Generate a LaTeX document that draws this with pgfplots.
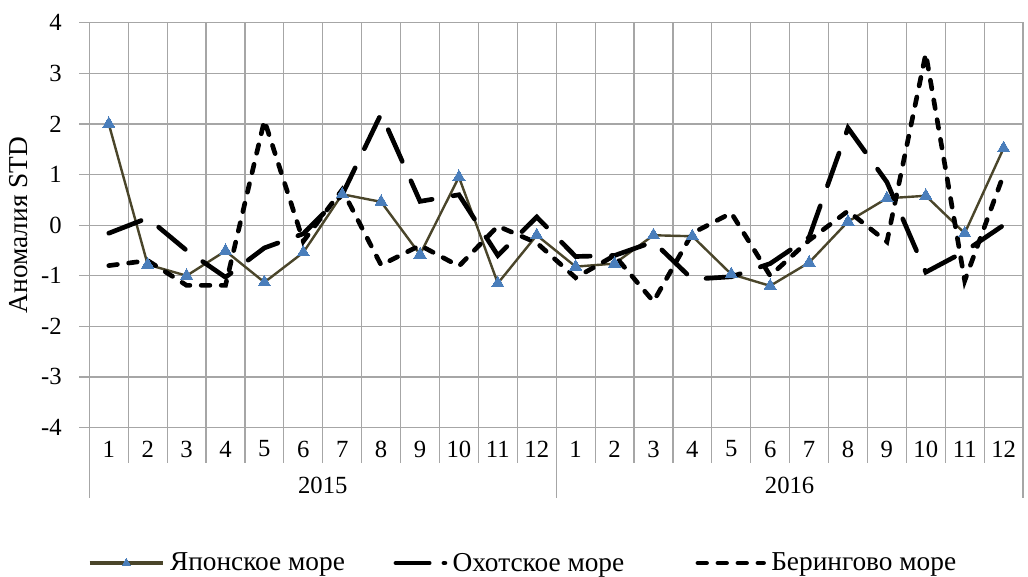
\documentclass[border=0pt]{standalone}
\usepackage{fontspec}
\setmainfont{Liberation Serif}
\usepackage{pgfplots}
\pgfplotsset{compat=1.18}

\definecolor{gridgray}{RGB}{166,166,166}
\definecolor{japanline}{RGB}{74,69,42}
\definecolor{japanmark}{RGB}{74,126,187}

\pgfplotsset{
  trianglelegend/.style={legend image code/.code={%
    \draw[##1, line width=2.5pt] (0pt,0pt) -- (55pt,0pt);
    \draw[japanmark, fill=japanmark, line width=0pt] plot[mark=triangle*, mark size=3.6pt]
      coordinates {(27.5pt,0pt)};}},
  longdashlegend/.style={legend image code/.code={%
    \draw[##1, dash pattern=on 25pt off 11pt on 1pt off 10pt] (1.75pt,0pt) -- (38.5pt,0pt);}},
  shortdashlegend/.style={legend image code/.code={%
    \draw[##1] (1.75pt,0pt) -- (51pt,0pt);}},
}

% Monthly STD anomalies, 2015-2016 (index 0..23)
\pgfplotstableread{
i  japan  okhotsk  bering
0   2.00  -0.16  -0.80
1  -0.78   0.14  -0.70
2  -1.00  -0.50  -1.19
3  -0.51  -1.03  -1.19
4  -1.13  -0.45   2.07
5  -0.54  -0.17  -0.32
6   0.61   0.60   0.70
7   0.46   2.20  -0.79
8  -0.58   0.47  -0.40
9   0.95   0.60  -0.81
10 -1.15  -0.60  -0.02
11 -0.20   0.16  -0.35
12 -0.82  -0.62  -1.04
13 -0.76  -0.60  -0.60
14 -0.20  -0.33  -1.51
15 -0.22  -1.07  -0.16
16 -0.97  -1.02   0.24
17 -1.20  -0.76  -1.00
18 -0.74  -0.24  -0.30
19  0.07   1.92   0.28
20  0.53   0.85  -0.33
21  0.58  -0.93   3.39
22 -0.16  -0.52  -1.10
23  1.52   0.00   1.00
}\anomalies

\begin{document}
\begin{tikzpicture}[font=\fontsize{18.5pt}{22pt}\selectfont]
\useasboundingbox (0,0) rectangle (771pt,432.75pt);
\begin{axis}[
  at={(67pt,112.1pt)}, anchor=south west,
  scale only axis, width=700.3pt, height=303.6pt,
  xmin=-0.5, xmax=23.5, ymin=-4, ymax=4,
  clip=false,
  axis line style={gridgray, line width=0.9pt},
  major tick length=0pt, minor tick length=0pt,
  xtick={0,...,23},
  xticklabels={1,2,3,4,5,6,7,8,9,10,11,12,1,2,3,4,5,6,7,8,9,10,11,12},
  minor xtick={-0.5,0.5,...,23.5},
  xminorgrids, minor x grid style={gridgray, line width=0.9pt},
  ytick={-4,...,4},
  yticklabels={-4,-3,-2,-1,0,1,2,3,4},
  ymajorgrids, y grid style={gridgray, line width=0.9pt},
  x tick label style={anchor=center, inner sep=0pt, yshift=-16.1pt},
  y tick label style={anchor=east, inner sep=0pt, xshift=-20.5pt},
  legend columns=3,
  legend style={at={(-0.0017,-0.3347)}, anchor=west, draw=none, fill=none,
    inner sep=0pt, nodes={inner sep=0pt, anchor=west},
    font=\fontsize{20.5pt}{24pt}\selectfont,
    /tikz/every odd column/.append style={column sep=4pt},
    /tikz/every even column/.append style={column sep=36.5pt}},
]
% outward tick stubs on the value axis
\pgfplotsinvokeforeach{-4,...,4}{
  \draw[gridgray, line width=0.9pt] (axis cs:-0.5,#1) -- ++(-8pt,0pt);
}
% month cell separators and year group separators below the plot
\pgfplotsinvokeforeach{0,...,22}{
  \draw[gridgray, line width=0.9pt] (axis cs:#1+0.5,-4) -- (axis cs:#1+0.5,-4.70);
}
\draw[gridgray, line width=0.9pt] (axis cs:-0.5,-4) -- (axis cs:-0.5,-5.39);
\draw[gridgray, line width=0.9pt] (axis cs:11.5,-4) -- (axis cs:11.5,-5.39);
\draw[gridgray, line width=0.9pt] (axis cs:23.5,-4) -- (axis cs:23.5,-5.39);
\node at (axis cs:5.5,-5.14) {2015};
\node at (axis cs:17.5,-5.14) {2016};

\addplot[japanline, line width=1.8pt, mark=triangle*, mark size=5.3pt,
  mark options={solid, fill=japanmark, draw=japanmark, line width=0pt},
  trianglelegend]
  table[x=i, y=japan] {\anomalies};
\addlegendentry{Японское море}

\addplot[black, line width=3.5pt, line cap=round, dash pattern=on 26pt off 16pt,
  longdashlegend]
  table[x=i, y=okhotsk] {\anomalies};
\addlegendentry{Охотское море\hspace*{17pt}}

\addplot[black, line width=3.5pt, line cap=round, dash pattern=on 6.5pt off 8.5pt,
  shortdashlegend]
  table[x=i, y=bering] {\anomalies};
\addlegendentry{Берингово море}
\end{axis}
\node[rotate=90, font=\fontsize{20.5pt}{24pt}\selectfont] at (14pt,264pt) {Аномалия STD};
\end{tikzpicture}
\end{document}
